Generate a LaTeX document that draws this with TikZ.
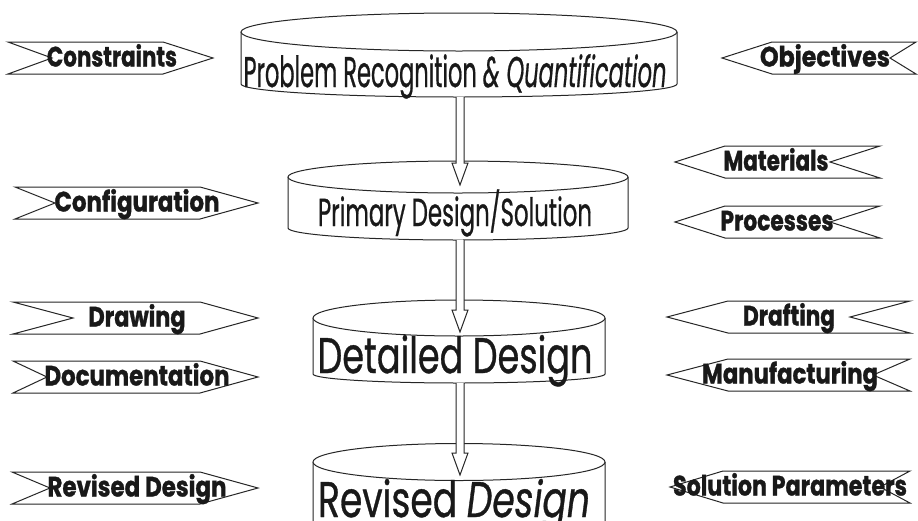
\documentclass[tikz,border=0pt]{standalone}
\usepackage{fontspec}
\setmainfont{Poppins}
\newfontfamily\lblfont{Poppins}[BoldFeatures={FakeBold=1.2}]
\newfontfamily\cylfont{Poppins}[UprightFeatures={FakeBold=0.8}, ItalicFeatures={FakeBold=0.8}]
\usepackage{graphicx}
\usetikzlibrary{calc}
\newcommand{\fitto}[2]{\resizebox{#1}{\height}{#2}}
\newcommand{\cyl}[6]{%
  \draw[shapeline, fill=white] (#1,-#3) -- (#1,-#5) arc[start angle=180,end angle=360,x radius={(#2-#1)/2},y radius=#6] -- (#2,-#3);
  \draw[shapeline, fill=white] ({(#1+#2)/2},-#3) ellipse[x radius={(#2-#1)/2}, y radius=#4];
}
\newcommand{\lban}[5]{%
  \draw[shapeline, fill=white] (#1,{-(#5-16)}) -- (#3,{-(#5-16)}) -- (#4,-#5) -- (#3,{-(#5+16)}) -- (#1,{-(#5+16)}) -- (#2,-#5) -- cycle;
}
\newcommand{\rban}[5]{%
  \draw[shapeline, fill=white] (#1,-#5) -- (#2,{-(#5-16)}) -- (#3,{-(#5-16)}) -- (#4,-#5) -- (#3,{-(#5+16)}) -- (#2,{-(#5+16)}) -- cycle;
}
\newcommand{\harrow}[2]{%
  \draw[shapeline, fill=white] ($(#1)+(-4,0)$) -- ($(#2)+(-4,22)$) -- ($(#2)+(-8,22)$) -- (#2) -- ($(#2)+(8,22)$) -- ($(#2)+(4,22)$) -- ($(#1)+(4,0)$);
}
\tikzset{
  shapeline/.style={draw=black!85, line width=1pt, line join=miter},
  lbl/.style={font=\lblfont\fontsize{28}{28}\selectfont\bfseries, inner sep=0pt, anchor=base, text=black!90},
  cyltext/.style={inner sep=0pt, anchor=base, text=black!90},
}
\begin{document}
\begin{tikzpicture}[x=1pt,y=1pt]
\clip (0,0) rectangle (918,-520);
\fill[white] (0,0) rectangle (918,-520);
% cylinders
\cyl{241}{677}{32}{19}{84}{13}
\cyl{288}{628}{177}{16}{228}{12}
\cyl{313}{605}{318}{18}{374}{9}
\cyl{313}{605}{462}{18.5}{560}{9}
% arrows
\coordinate (a1s) at (460,-97);
\coordinate (a1t) at (460,-185);
\coordinate (a2s) at (460,-240);
\coordinate (a2t) at (460,-332);
\coordinate (a3s) at (460,-383);
\coordinate (a3t) at (460,-475);
\harrow{a1s}{a1t}
\harrow{a2s}{a2t}
\harrow{a3s}{a3t}
% cylinder texts
\node[cyltext, font=\cylfont\fontsize{43}{43}\selectfont] (problem) at (455,-87) {\fitto{423pt}{Problem Recognition \itshape\&~Quantification}};
\node[cyltext, font=\cylfont\fontsize{39}{39}\selectfont] (primary) at (455,-226) {\fitto{274pt}{Primary Design/Solution}};
\node[cyltext, font=\cylfont\fontsize{50}{50}\selectfont] (detailed) at (455,-373) {\fitto{275pt}{Detailed Design}};
\node[cyltext, font=\cylfont\fontsize{50}{50}\selectfont] (revised) at (454,-517) {\fitto{272pt}{Revised \itshape Design}};
% left banners
\lban{8}{52}{163}{213}{58}
\lban{15}{55}{200}{258}{203}
\lban{13}{73}{200}{258}{318}
\lban{13}{47}{200}{258}{377}
\lban{12}{50}{200}{258}{488}
% right banners
\rban{722}{772}{916}{890}{58}
\rban{675}{725}{880}{830}{162}
\rban{675}{725}{880}{830}{222}
\rban{667}{728}{910}{850}{317}
\rban{667}{728}{910}{873}{375}
\rban{670}{723}{910}{880}{487}
% labels
\node[lbl] (constraints) at (112,-66.5) {\fitto{130pt}{Constraints}};
\node[lbl] (configuration) at (137,-211.5) {\fitto{165pt}{Configuration}};
\node[lbl] (drawing) at (137,-326.5) {\fitto{97pt}{Drawing}};
\node[lbl] (documentation) at (137,-385.5) {\fitto{185pt}{Documentation}};
\node[lbl] (reviseddesign) at (137,-496.5) {\fitto{179pt}{Revised Design}};
\node[lbl] (objectives) at (825,-66.5) {\fitto{130pt}{Objectives}};
\node[lbl] (materials) at (776,-170.5) {\fitto{105pt}{Materials}};
\node[lbl] (processes) at (777,-230.5) {\fitto{113pt}{Processes}};
\node[lbl] (drafting) at (789,-325.5) {\fitto{92pt}{Drafting}};
\node[lbl] (manufacturing) at (790,-383.5) {\fitto{176pt}{Manufacturing}};
\node[lbl] (solparam) at (790,-495.5) {\fitto{234pt}{Solution Parameters}};
\end{tikzpicture}
\end{document}
